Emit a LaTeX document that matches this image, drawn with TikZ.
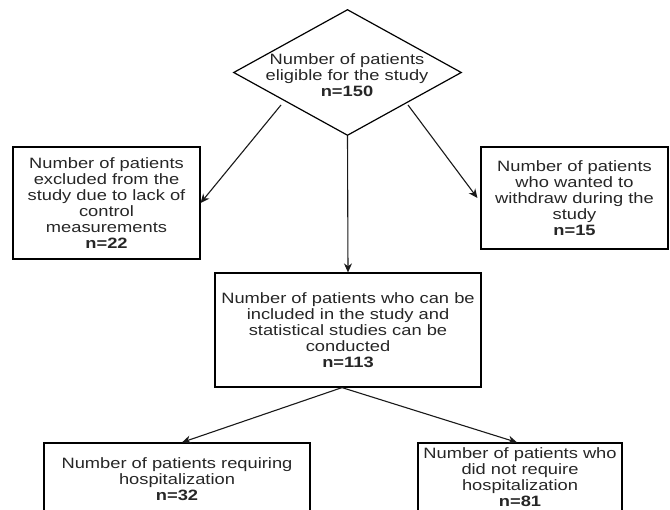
\documentclass[tikz,border=0pt]{standalone}
\usepackage{fontspec}
\setmainfont{Liberation Sans}[FakeStretch=1.22]
\usetikzlibrary{shapes.geometric,arrows.meta}
\begin{document}
\begin{tikzpicture}[x=1pt,y=1pt,
  txt/.style={align=center,inner sep=0pt,text=black!85,font=\fontsize{15}{16}\selectfont},
  box/.style={txt,draw=black,line width=1.2pt},
  arr/.style={draw=black!90,line width=1.1pt,-{Stealth[length=9pt,width=8pt]}}]
\useasboundingbox (0,0) rectangle (670,-510);
\clip (0,0) rectangle (670,-510);
% decision diamond
\node[draw=black,diamond,line width=1.2pt,inner sep=0pt,minimum width=228pt,minimum height=126pt] (d) at (347.5,-72.5) {};
\node[txt] (dt) at (347,-75) {Number of patients\\eligible for the study\\\textbf{n=150}};
% boxes
\node[box,minimum width=187pt,minimum height=112pt] (lb) at (106.5,-203)
  {Number of patients\\excluded from the\\study due to lack of\\control\\measurements\\\textbf{n=22}};
\node[box,minimum width=187pt,minimum height=102pt] (rb) at (574.5,-198)
  {Number of patients\\who wanted to\\withdraw during the\\study\\\textbf{n=15}};
\node[box,minimum width=266pt,minimum height=114pt] (cb) at (348,-330)
  {Number of patients who can be\\included in the study and\\statistical studies can be\\conducted\\\textbf{n=113}};
\node[box,minimum width=266pt,minimum height=73pt] (blb) at (177,-479.5)
  {Number of patients requiring\\hospitalization\\\textbf{n=32}};
\node[box,minimum width=204pt,minimum height=73pt] (brb) at (520,-479.5) {};
\node[txt,anchor=north] (brbt) at (520,-447)
  {Number of patients who\\did not require\\hospitalization\\\textbf{n=81}};
% connectors
\coordinate (dl) at (281,-105);
\coordinate (dr) at (408,-105);
\draw[arr] (dl) -- (lb.east);
\draw[arr] (dr) -- ([xshift=-3pt]rb.west);
\draw[arr] (d.south) -- (cb.north);
\draw[arr] ([xshift=-6pt]cb.south) -- ([xshift=5pt]blb.north);
\draw[arr] ([xshift=-6pt]cb.south) -- ([xshift=-3pt]brb.north);
\end{tikzpicture}
\end{document}
